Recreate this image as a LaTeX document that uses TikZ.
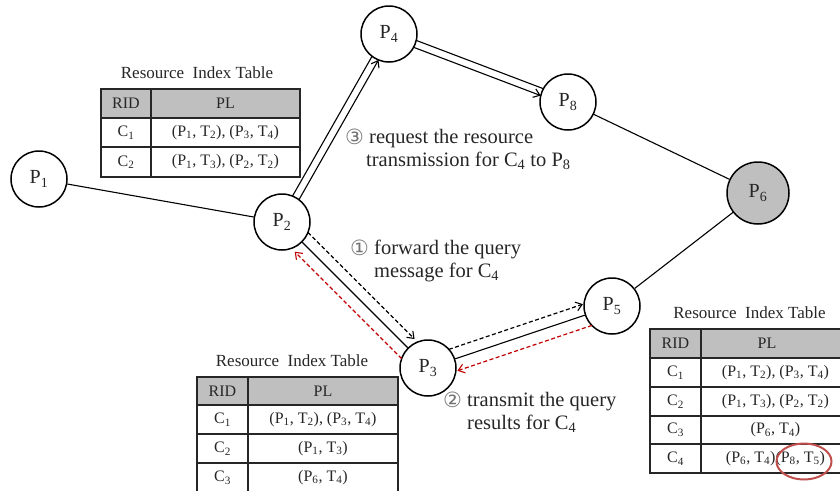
\documentclass[tikz,border=0pt]{standalone}
\usepackage{fontspec}
\setmainfont{Liberation Serif}
\newfontfamily\symf{DejaVu Sans}
\usetikzlibrary{calc,arrows.meta}
\definecolor{hdrgray}{HTML}{BFBFBF}
\definecolor{qred}{HTML}{C00000}
\definecolor{hlred}{HTML}{C0504D}
\definecolor{txt}{HTML}{262626}
\newcommand\sbs[1]{\textsubscript{#1}}
\tikzset{
  peer/.style={circle, draw=black, line width=1.5pt, minimum size=56pt, inner sep=0pt,
    text=txt, font=\fontsize{20}{24}\selectfont},
  link/.style={draw=black, line width=1.1pt},
  tip/.style={-{Straight Barb[length=6pt,width=9pt,line width=1.1pt]}},
  qarrow/.style={line width=1.2pt, dash pattern=on 4pt off 2.5pt, tip},
  tbl/.style={draw=black!85, line width=1.4pt},
  cell/.style={text=txt, font=\fontsize{16}{19}\selectfont, inner sep=0pt},
  ttl/.style={text=txt, font=\fontsize{17}{20}\selectfont, inner sep=0pt},
  lbl/.style={text=txt, font=\fontsize{20.5}{24}\selectfont, inner sep=0pt, anchor=base west},
  circd/.style={text=black!55, font=\symf\fontsize{21}{22}\selectfont, inner sep=0pt, anchor=base west},
}
\begin{document}
\begin{tikzpicture}[x=1pt,y=-1pt]
\useasboundingbox (0,0) rectangle (840,490);
\clip (0,0) rectangle (840,490);

% ---------- peers ----------
\node[peer] (P1) at (39,179) {P\sbs{1}};
\node[peer] (P2) at (282,222) {P\sbs{2}};
\node[peer] (P4) at (389,34) {P\sbs{4}};
\node[peer] (P8) at (568,102) {P\sbs{8}};
\node[peer, fill=hdrgray, minimum size=62pt] (P6) at (758,193) {P\sbs{6}};
\node[peer] (P5) at (612,306) {P\sbs{5}};
\node[peer] (P3) at (428,368) {P\sbs{3}};

% ---------- plain links ----------
\draw[link] (P1) -- (P2);
\draw[link] (P8) -- (P6);
\draw[link] (P6) -- (P5);
\draw[link] (P2) -- (P3);
\draw[link] (P3) -- (P5);

% ---------- P2 -> P4 -> P8 (double) ----------
\draw[link, shorten <=27.8pt, shorten >=27.8pt] ($(P2)!3.7pt!90:(P4)$) -- ($(P4)!3.7pt!-90:(P2)$);
\draw[link, tip, shorten <=27.8pt, shorten >=27.8pt] ($(P2)!3.7pt!-90:(P4)$) -- ($(P4)!3.7pt!90:(P2)$);
\draw[link, shorten <=27.8pt, shorten >=27.8pt] ($(P4)!3.7pt!90:(P8)$) -- ($(P8)!3.7pt!-90:(P4)$);
\draw[link, tip, shorten <=27.8pt, shorten >=27.8pt] ($(P4)!3.7pt!-90:(P8)$) -- ($(P8)!3.7pt!90:(P4)$);

% ---------- query / result arrows ----------
\draw[qarrow, black, shorten <=25.7pt, shorten >=30pt] ($(P2)!11pt!90:(P3)$) -- ($(P3)!11pt!-90:(P2)$);
\draw[qarrow, qred, shorten <=25.3pt, shorten >=30pt] ($(P3)!12pt!90:(P2)$) -- ($(P2)!12pt!-90:(P3)$);
\draw[qarrow, black, shorten <=25.7pt, shorten >=27pt] ($(P3)!11pt!90:(P5)$) -- ($(P5)!11pt!-90:(P3)$);
\draw[qarrow, qred, shorten <=25.3pt, shorten >=27pt] ($(P5)!12pt!90:(P3)$) -- ($(P3)!12pt!-90:(P5)$);

% ---------- labels ----------
\node[circd] (n3) at (345,144) {③};
\node[lbl] (l3a) at (369,143) {request the resource};
\node[lbl] (l3b) at (366,166) {transmission for C\sbs{4} to P\sbs{8}};
\node[circd] (n1) at (350,255) {①};
\node[lbl] (l1a) at (374,254) {forward the query};
\node[lbl] (l1b) at (374,277) {message for C\sbs{4}};
\node[circd] (n2) at (443,407) {②};
\node[lbl] (l2a) at (467,406) {transmit the query};
\node[lbl] (l2b) at (467,429) {results for C\sbs{4}};

% ---------- table 1 ----------
\node[ttl] (T1) at (197,73) {Resource~~Index Table};
\fill[hdrgray] (101,89) rectangle (300,118);
\draw[tbl] (101,89) rectangle (300,177);
\draw[tbl] (101,118) -- (300,118) (101,147) -- (300,147) (151,89) -- (151,177);
\node[cell] (T1h1) at (126,103.5) {RID};
\node[cell] (T1h2) at (225.5,103.5) {PL};
\node[cell] (T1a1) at (126,132.5) {C\sbs{1}};
\node[cell] (T1a2) at (225.5,132.5) {(P\sbs{1}, T\sbs{2}), (P\sbs{3}, T\sbs{4})};
\node[cell] (T1b1) at (126,162) {C\sbs{2}};
\node[cell] (T1b2) at (225.5,162) {(P\sbs{1}, T\sbs{3}), (P\sbs{2}, T\sbs{2})};

% ---------- table 2 ----------
\node[ttl] (T2) at (292,361) {Resource~~Index Table};
\fill[hdrgray] (197,377) rectangle (398,405);
\draw[tbl] (197,377) rectangle (398,492);
\draw[tbl] (197,405) -- (398,405) (197,434) -- (398,434) (197,463) -- (398,463) (248,377) -- (248,492);
\node[cell] (T2h1) at (222.5,391) {RID};
\node[cell] (T2h2) at (323,391) {PL};
\node[cell] (T2a1) at (222.5,419.5) {C\sbs{1}};
\node[cell] (T2a2) at (323,419.5) {(P\sbs{1}, T\sbs{2}), (P\sbs{3}, T\sbs{4})};
\node[cell] (T2b1) at (222.5,448.5) {C\sbs{2}};
\node[cell] (T2b2) at (323,448.5) {(P\sbs{1}, T\sbs{3})};
\node[cell] (T2c1) at (222.5,477.5) {C\sbs{3}};
\node[cell] (T2c2) at (323,477.5) {(P\sbs{6}, T\sbs{4})};

% ---------- table 3 ----------
\node[ttl] (T3) at (749.5,313) {Resource~~Index Table};
\fill[hdrgray] (650,329) rectangle (850,358);
\draw[tbl] (650,329) rectangle (850,473);
\draw[tbl] (650,358) -- (850,358) (650,387) -- (850,387) (650,416) -- (850,416) (650,444) -- (850,444) (701,329) -- (701,473);
\node[cell] (T3h1) at (675.5,343.5) {RID};
\node[cell] (T3h2) at (767,343.5) {PL};
\node[cell] (T3a1) at (675.5,372.5) {C\sbs{1}};
\node[cell] (T3a2) at (775.5,372.5) {(P\sbs{1}, T\sbs{2}), (P\sbs{3}, T\sbs{4})};
\node[cell] (T3b1) at (675.5,401.5) {C\sbs{2}};
\node[cell] (T3b2) at (775.5,401.5) {(P\sbs{1}, T\sbs{3}), (P\sbs{2}, T\sbs{2})};
\node[cell] (T3c1) at (675.5,430) {C\sbs{3}};
\node[cell] (T3c2) at (775.5,430) {(P\sbs{6}, T\sbs{4})};
\node[cell] (T3d1) at (675.5,458.5) {C\sbs{4}};
\node[cell] (T3d2) at (775.5,458.5) {(P\sbs{6}, T\sbs{4})(P\sbs{8}, T\sbs{5})};
\draw[hlred, line width=2pt] (804,461.5) ellipse [x radius=27.5, y radius=18];
\end{tikzpicture}
\end{document}
